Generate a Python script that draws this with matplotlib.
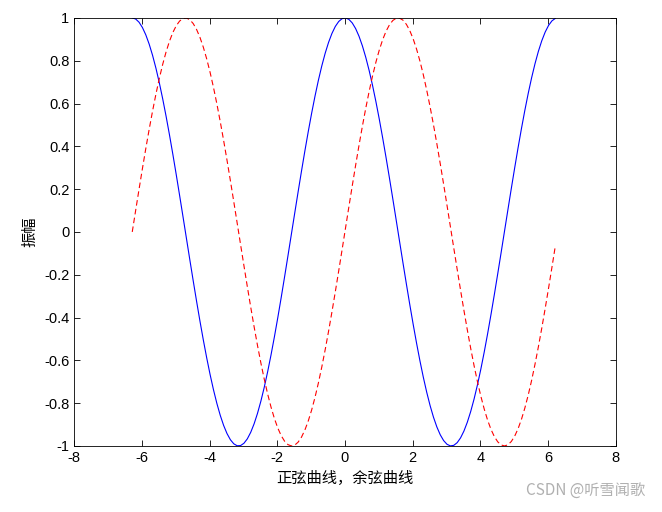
import numpy as np
from matplotlib import pyplot as plt

plt.rcParams['font.family'] = ['Liberation Sans', 'Noto Sans CJK SC', 'DejaVu Sans']

# MATLAB style: x = -2*pi:0.1:2*pi
x = np.arange(-2 * np.pi, 2 * np.pi, 0.1)
y_cos = np.cos(x)
y_sin = np.sin(x)

xticks = np.arange(-8, 9, 2)
yticks = np.round(np.arange(-1, 1.01, 0.2), 1)

fig = plt.figure(figsize=(6.62, 5.12), dpi=100)
ax = fig.add_axes([0.112, 0.129, 0.818, 0.836])
ax.plot(x, y_cos, '-', color='#0000ff', linewidth=0.8)
ax.plot(x, y_sin, '--', color='#ff0000', linewidth=0.8, dashes=(5, 3))

ax.set_xlim(-8, 8)
ax.set_ylim(-1, 1)
ax.set_xticks(xticks)
ax.set_yticks(yticks)
ax.set_xticklabels([str(t) for t in xticks])
ax.set_yticklabels(['0' if t == 0 else ('%g' % t) for t in yticks])
ax.tick_params(direction='in', top=True, right=True, labelsize=10.5, length=4, width=0.6)
for s in ax.spines.values():
    s.set_linewidth(0.6)

ax.set_xlabel('正弦曲线，余弦曲线', fontsize=11, family=['Noto Sans CJK SC'])
ax.set_ylabel('振幅', fontsize=11, family=['Noto Sans CJK SC'])

fig.text(0.975, 0.025, 'CSDN @听雪闻歌', ha='right', va='bottom', fontsize=11,
         color='#b0b0b0', family=['Noto Sans CJK SC', 'DejaVu Sans'])

plt.savefig('out.png')
plt.close()
